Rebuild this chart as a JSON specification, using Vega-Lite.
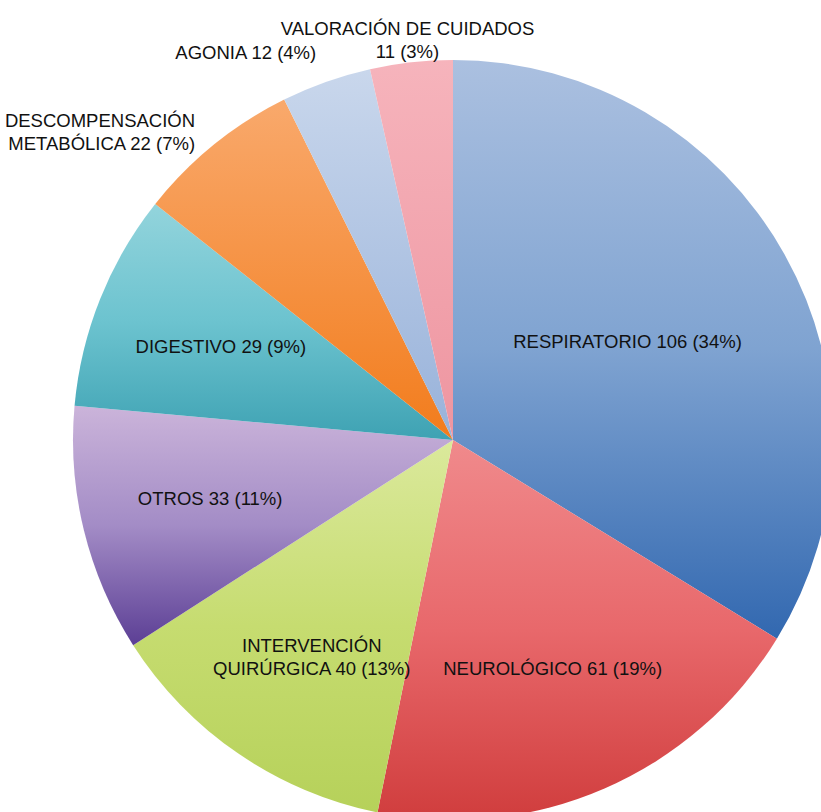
{
  "$schema": "https://vega.github.io/schema/vega-lite/v6.json",
  "autosize": "none",
  "padding": {"left": 85, "top": 68, "right": 0, "bottom": 0},
  "width": 736,
  "height": 744,
  "background": "white",
  "config": {"view": {"stroke": null}, "text": {"font": "Liberation Sans", "fontSize": 18.5, "color": "#111111", "lineHeight": 23}},
  "data": {
    "values": [
      {"ord": 1, "cat": "RESPIRATORIO", "n": 106, "label": "RESPIRATORIO 106 (34%)"},
      {"ord": 2, "cat": "NEUROLOGICO", "n": 61, "label": "NEUROLÓGICO 61 (19%)"},
      {"ord": 3, "cat": "INTERVENCION", "n": 40, "label": "INTERVENCIÓN\nQUIRÚRGICA 40 (13%)"},
      {"ord": 4, "cat": "OTROS", "n": 33, "label": "OTROS 33 (11%)"},
      {"ord": 5, "cat": "DIGESTIVO", "n": 29, "label": "DIGESTIVO 29 (9%)"},
      {"ord": 6, "cat": "DESCOMPENSACION", "n": 22, "label": "DESCOMPENSACIÓN\nMETABÓLICA 22 (7%)"},
      {"ord": 7, "cat": "AGONIA", "n": 12, "label": "AGONIA 12 (4%)"},
      {"ord": 8, "cat": "VALORACION", "n": 11, "label": "VALORACIÓN DE CUIDADOS\n11 (3%)"}
    ]
  },
  "encoding": {
    "theta": {"field": "n", "type": "quantitative", "stack": true},
    "detail": {"field": "cat", "type": "nominal"},
    "order": {"field": "ord", "type": "quantitative", "sort": "ascending"}
  },
  "layer": [
    {
      "mark": {"type": "arc", "radius": 380},
      "encoding": {
        "color": {
          "condition": [
            {"test": "datum.cat === 'RESPIRATORIO'", "value": {"gradient": "linear", "x1": 0, "y1": 0, "x2": 0, "y2": 1, "stops": [{"offset": 0, "color": "#abc0e0"}, {"offset": 0.5, "color": "#7fa3d1"}, {"offset": 1, "color": "#3268b0"}]}},
            {"test": "datum.cat === 'NEUROLOGICO'", "value": {"gradient": "linear", "x1": 0, "y1": 0, "x2": 0, "y2": 1, "stops": [{"offset": 0, "color": "#f08a8c"}, {"offset": 0.5, "color": "#e8686b"}, {"offset": 1, "color": "#d03d3d"}]}},
            {"test": "datum.cat === 'INTERVENCION'", "value": {"gradient": "linear", "x1": 0, "y1": 0, "x2": 0, "y2": 1, "stops": [{"offset": 0, "color": "#dbe99c"}, {"offset": 0.5, "color": "#c6dc70"}, {"offset": 1, "color": "#b6d15a"}]}},
            {"test": "datum.cat === 'OTROS'", "value": {"gradient": "linear", "x1": 0, "y1": 0, "x2": 0, "y2": 1, "stops": [{"offset": 0, "color": "#cbb4da"}, {"offset": 0.5, "color": "#a38cc6"}, {"offset": 1, "color": "#5c3f95"}]}},
            {"test": "datum.cat === 'DIGESTIVO'", "value": {"gradient": "linear", "x1": 0, "y1": 0, "x2": 0, "y2": 1, "stops": [{"offset": 0, "color": "#93d4dc"}, {"offset": 0.5, "color": "#6cc3cf"}, {"offset": 1, "color": "#3ea2b3"}]}},
            {"test": "datum.cat === 'DESCOMPENSACION'", "value": {"gradient": "linear", "x1": 0, "y1": 0, "x2": 0, "y2": 1, "stops": [{"offset": 0, "color": "#f9a96c"}, {"offset": 1, "color": "#f27c1c"}]}},
            {"test": "datum.cat === 'AGONIA'", "value": {"gradient": "linear", "x1": 0, "y1": 0, "x2": 0, "y2": 1, "stops": [{"offset": 0, "color": "#c9d7ec"}, {"offset": 1, "color": "#98b2da"}]}},
            {"test": "datum.cat === 'VALORACION'", "value": {"gradient": "linear", "x1": 0, "y1": 0, "x2": 0, "y2": 1, "stops": [{"offset": 0, "color": "#f6b4bc"}, {"offset": 1, "color": "#ee95a0"}]}}
          ],
          "value": "#cccccc"
        }
      }
    },
    {
      "mark": {"type": "text", "radius": 200, "align": "center", "baseline": "middle", "lineBreak": "\n"},
      "encoding": {
        "text": {"condition": {"test": {"field": "cat", "oneOf": ["RESPIRATORIO"]}, "field": "label"}, "value": ""}
      }
    },
    {
      "mark": {"type": "text", "radius": 250, "align": "center", "baseline": "middle", "lineBreak": "\n"},
      "encoding": {
        "text": {"condition": {"test": {"field": "cat", "oneOf": ["NEUROLOGICO", "INTERVENCION", "OTROS", "DIGESTIVO"]}, "field": "label"}, "value": ""}
      }
    },
    {
      "mark": {"type": "text", "radius": 414, "align": "center", "baseline": "middle", "lineBreak": "\n"},
      "encoding": {
        "text": {"condition": {"test": {"field": "cat", "oneOf": ["VALORACION"]}, "field": "label"}, "value": ""}
      }
    },
    {
      "mark": {"type": "text", "radius": 410, "align": "right", "baseline": "middle", "lineBreak": "\n"},
      "encoding": {
        "text": {"condition": {"test": {"field": "cat", "oneOf": ["DESCOMPENSACION", "AGONIA"]}, "field": "label"}, "value": ""}
      }
    }
  ]
}
